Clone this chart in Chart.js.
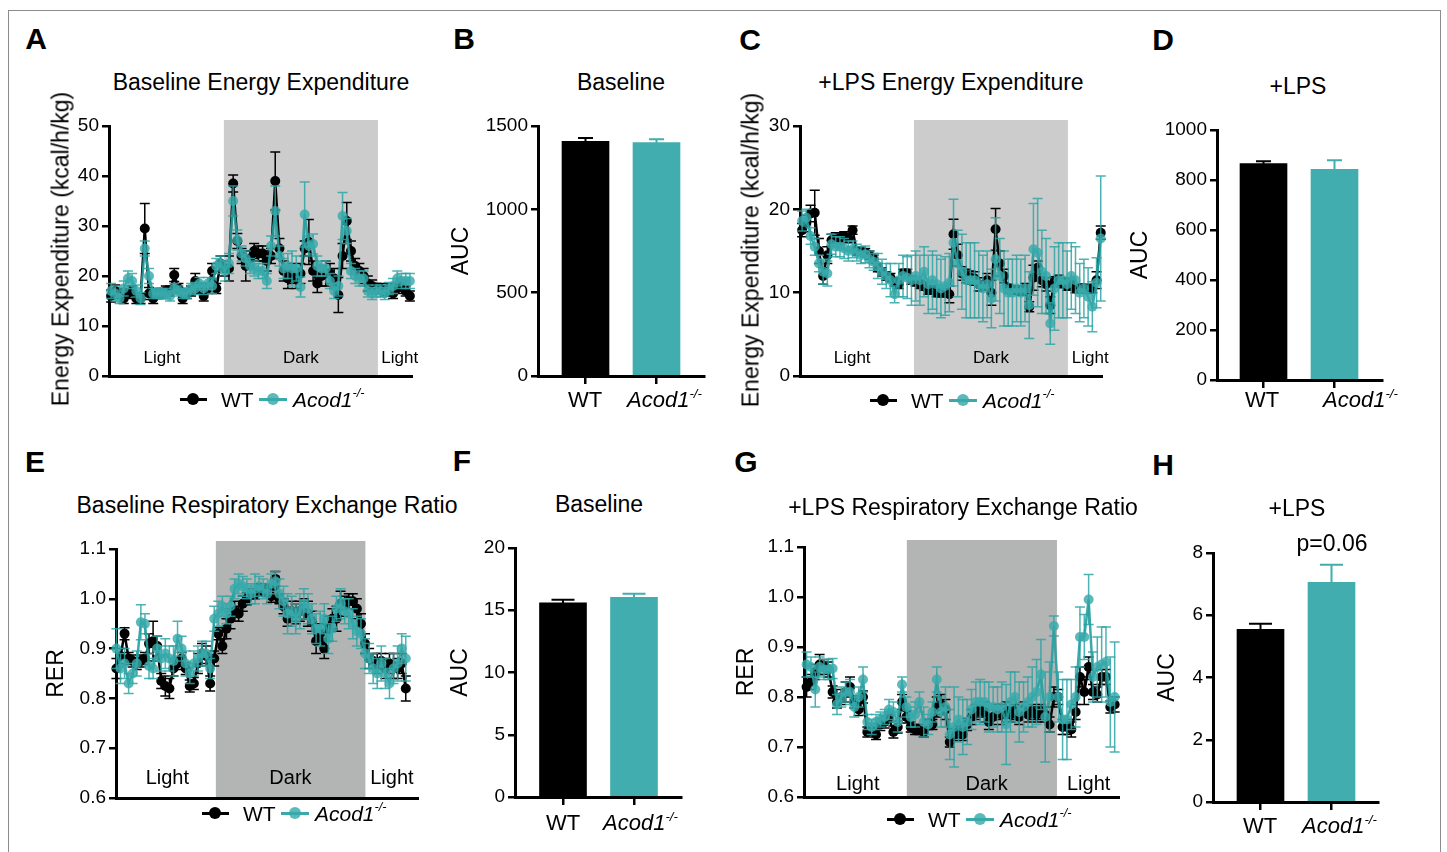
<!DOCTYPE html>
<html>
<head>
<meta charset="utf-8">
<script src="https://cdn.jsdelivr.net/npm/chart.js@4.4.1/dist/chart.umd.min.js"></script>
<style>
  body { margin: 0; width: 1447px; height: 852px; position: relative; background: #fff; overflow: hidden;
         font-family: "Liberation Sans", Arial, sans-serif; color: #000; }
  .frame { position: absolute; left: 8px; top: 10px; width: 1431px; height: 860px; border: 1.5px solid #8c8c8c; }
  canvas { position: absolute; }
  .t { position: absolute; white-space: nowrap; line-height: 1; }
  .letter { font-weight: bold; font-size: 30px; }
  .ttl { font-size: 23px; }
  .lg { font-size: 21px; }
  .tk { font-size: 22px; }
  sup { font-size: 0.6em; position: relative; top: -0.15em; vertical-align: top; }
</style>
</head>
<body>
<div class="frame"></div>
<canvas id="cA" width="380" height="300" style="left:43px;top:96px"></canvas>
<canvas id="cB" width="272" height="300" style="left:444px;top:96px"></canvas>
<canvas id="cC" width="380" height="300" style="left:733px;top:96px"></canvas>
<canvas id="cD" width="272" height="300" style="left:1123px;top:100px"></canvas>
<canvas id="cE" width="390" height="299" style="left:39px;top:519px"></canvas>
<canvas id="cF" width="250" height="299" style="left:443px;top:518px"></canvas>
<canvas id="cG" width="400" height="300" style="left:729px;top:517px"></canvas>
<canvas id="cH" width="240" height="299" style="left:1150px;top:523px"></canvas>
<script>
// ---- time course data (72 bins, 20 min each) ----
// A: baseline energy expenditure (kcal/h/kg)
const eeBaseWT = [
  16, 17, 16.5, 15.5, 16.5, 17, 15.5, 15.5, 29.5, 16.5, 15.5, 16.5,
  16.5, 17, 17, 20.2, 17.5, 15.5, 16.5, 17, 19, 17.5, 16, 17.5,
  21, 17.5, 22.5, 21.5, 21.5, 38.5, 27, 24, 22, 23.5, 25, 24.5,
  24.5, 23, 24, 39, 25.5, 21, 19.5, 20.5, 19.5, 20.5, 25.5, 26.8,
  21, 18.5, 20, 20.5, 20.5, 19.5, 16.2, 24, 31, 25, 22, 21,
  20, 18.5, 18, 17.5, 17.5, 17, 17.5, 16.5, 17.5, 18, 17, 16];
const eeBaseWTErr = [
  1.2, 1.2, 1, 1, 1, 1, 1, 1, 5, 1.2, 1, 1,
  1, 1, 1, 1.3, 1, 1, 1, 1, 1.5, 1, 1, 1,
  1.5, 1, 1.5, 1.5, 2.5, 1.7, 1.5, 1.5, 3, 1.5, 1.5, 1.5,
  1.5, 2, 1.5, 5.8, 2, 2, 2, 2, 2, 2, 1.5, 4.5,
  2, 1.8, 2, 2.5, 2, 2, 3.5, 2.5, 3.7, 2, 1.5, 1.5,
  1.5, 1.5, 1.2, 1, 1, 1, 1, 1, 1, 1, 1, 1];
const eeBaseKO = [
  17, 16.5, 15.5, 17.5, 19.5, 19, 17, 15.5, 25.5, 20, 16.5, 16.5,
  16.5, 16.5, 16, 17.5, 17, 16.5, 16.5, 17.5, 17.5, 18.5, 17.5, 18.5,
  18, 22, 22.5, 21, 22.5, 35, 27.2, 24.5, 23.5, 22, 21.5, 21,
  21, 19, 26, 33, 24, 21.5, 22, 21.5, 21.5, 17.8, 32.3, 26,
  26.4, 22, 21.5, 21.5, 19, 17, 18, 32, 29, 21, 20, 19.5,
  19.5, 17, 16.5, 17, 17, 16.5, 17.5, 18, 19.5, 19, 19, 19];
const eeBaseKOErr = [
  1.5, 1.5, 1, 1.5, 1.5, 1.5, 1.2, 1.2, 1.5, 1.5, 1, 1,
  1, 1, 1, 1, 1, 1, 1, 1, 1.2, 1.2, 1.2, 1.2,
  1.5, 1.5, 1.5, 2, 2, 3, 2, 1.5, 1.5, 1.5, 1.5, 1.5,
  1.5, 1.5, 2, 5, 2, 2, 2.5, 3.5, 2.5, 2, 6.5, 2,
  2, 2, 1.5, 1.5, 1.5, 1.5, 2, 4.7, 2.5, 1.5, 1.5, 1.5,
  1.5, 1.2, 1.2, 1.2, 1.2, 1.2, 1.2, 1.5, 1.5, 1.5, 1.5, 1.5];

// C: +LPS energy expenditure
const eeLpsWT = [
  17.5, 18.3, 19.5, 19.6, 15, 12, 14.5, 16.3, 16.5, 16.5, 16.8, 16.5,
  17.5, 15, 15, 14.8, 14.5, 14, 13, 12.5, 12, 11.8, 11.3, 11,
  12.3, 12.3, 11.5, 11.3, 11, 10.8, 10.3, 10.3, 10, 10, 10, 9.8,
  17, 14.5, 12.3, 12, 11.8, 11.7, 11, 10.8, 11.5, 10, 17.6, 13.5,
  12, 10.5, 10.3, 10.3, 10.2, 10.5, 8.3, 11.8, 13, 11.5, 11, 8.5,
  11.3, 11.5, 11.2, 10.8, 11.2, 10.5, 10.5, 10.5, 10.4, 10.5, 11.5, 17.2];
const eeLpsWTErr = [
  0.8, 1, 1, 2.7, 1.5, 1, 1, 0.7, 0.7, 0.7, 0.5, 0.5,
  0.5, 0.5, 0.5, 0.5, 0.5, 0.5, 0.5, 0.5, 0.5, 0.5, 0.5, 0.5,
  0.5, 0.5, 0.5, 0.5, 0.5, 0.5, 0.5, 0.5, 0.5, 0.5, 0.5, 1,
  1.8, 1.3, 0.8, 0.8, 0.8, 0.8, 0.8, 0.5, 0.8, 1.5, 2.5, 1.5,
  0.8, 0.5, 0.5, 0.5, 0.5, 0.6, 0.6, 1.5, 0.8, 0.8, 0.8, 1,
  0.6, 0.6, 0.6, 0.5, 0.5, 0.5, 0.5, 0.5, 0.5, 0.5, 1, 0.8];
const eeLpsKO = [
  18.6, 19, 16.8, 15.5, 13.5, 12.5, 12.3, 15.8, 15.5, 15.5, 15.3, 15,
  15.2, 14.8, 14.5, 14.6, 14, 13.7, 13.2, 12.5, 12, 11.5, 9.8, 11.5,
  12, 11.8, 11.5, 12, 11.5, 12.5, 11, 11.5, 11, 10.5, 10.8, 11.2,
  16, 13.5, 12.5, 11.5, 11.5, 11.5, 11, 10.5, 11, 9.3, 14, 12,
  10.5, 10, 10, 10.5, 10, 10.5, 8.5, 15.2, 14.8, 12.5, 12, 6.3,
  10.5, 11.5, 11.5, 11, 12, 11.5, 10, 10.5, 9.5, 8.3, 11.2, 16.5];
const eeLpsKOErr = [
  1.2, 1, 1, 1, 1, 1.5, 1.5, 1.2, 1.2, 1.2, 1.2, 1.2,
  1, 1, 1, 1, 1, 1, 1.5, 1.5, 1.5, 2, 1, 2,
  2.5, 2.5, 3, 3, 3, 3, 3.5, 3.5, 3.5, 3.5, 3.5, 3.5,
  5.2, 4, 4.5, 4.5, 4.5, 4.5, 4, 4, 4, 3.5, 5, 4.5,
  4.5, 4, 4, 4, 4, 4, 4, 5.5, 6.5, 5, 4.5, 2.5,
  5, 4.5, 4.5, 4, 4, 4, 3.5, 3.5, 3.5, 3, 3, 7.5];

// E: baseline RER
const rerBaseWT = [
  0.86, 0.885, 0.93, 0.88, 0.875, 0.87, 0.875, 0.88, 0.91, 0.915, 0.905, 0.835,
  0.825, 0.82, 0.86, 0.87, 0.88, 0.86, 0.825, 0.83, 0.87, 0.89, 0.885, 0.83,
  0.88, 0.93, 0.905, 0.94, 0.96, 0.975, 0.97, 0.99, 1.0, 1.01, 1.01, 1.02,
  1.015, 1.02, 1.005, 1.04, 1.0, 0.985, 0.96, 0.975, 0.97, 0.975, 0.98, 0.97,
  0.955, 0.915, 0.93, 0.9, 0.94, 0.96, 0.96, 0.99, 0.985, 0.995, 0.995, 0.98,
  0.95, 0.91, 0.88, 0.875, 0.87, 0.875, 0.86, 0.87, 0.865, 0.86, 0.87, 0.82];
const rerBaseWTErr = [
  0.02, 0.015, 0.012, 0.012, 0.012, 0.012, 0.012, 0.012, 0.02, 0.04, 0.02, 0.015,
  0.02, 0.02, 0.015, 0.012, 0.012, 0.012, 0.012, 0.012, 0.02, 0.02, 0.02, 0.015,
  0.015, 0.012, 0.015, 0.02, 0.02, 0.02, 0.015, 0.015, 0.012, 0.01, 0.01, 0.01,
  0.01, 0.01, 0.012, 0.015, 0.01, 0.015, 0.015, 0.02, 0.02, 0.02, 0.02, 0.025,
  0.02, 0.025, 0.02, 0.02, 0.025, 0.02, 0.025, 0.025, 0.02, 0.015, 0.015, 0.02,
  0.02, 0.02, 0.02, 0.015, 0.02, 0.015, 0.02, 0.02, 0.025, 0.02, 0.02, 0.025];
const rerBaseKO = [
  0.90, 0.86, 0.87, 0.83, 0.85, 0.87, 0.953, 0.95, 0.865, 0.86, 0.90, 0.88,
  0.89, 0.88, 0.875, 0.92, 0.90, 0.87, 0.85, 0.87, 0.88, 0.89, 0.89, 0.86,
  0.96, 0.97, 0.985, 0.97, 0.985, 1.02, 1.03, 1.025, 1.02, 1.01, 1.02, 1.025,
  1.02, 1.01, 1.03, 1.035, 1.01, 0.995, 0.97, 0.975, 0.96, 0.975, 0.99, 0.98,
  0.96, 0.94, 0.94, 0.96, 0.92, 0.94, 0.98, 0.99, 0.975, 0.97, 0.95, 0.935,
  0.93, 0.89, 0.88, 0.86, 0.85, 0.87, 0.85, 0.83, 0.86, 0.87, 0.90, 0.88];
const rerBaseKOErr = [
  0.04, 0.03, 0.03, 0.02, 0.02, 0.025, 0.035, 0.02, 0.025, 0.02, 0.025, 0.025,
  0.03, 0.025, 0.03, 0.035, 0.025, 0.025, 0.02, 0.025, 0.025, 0.025, 0.025, 0.02,
  0.025, 0.025, 0.02, 0.02, 0.02, 0.02, 0.02, 0.02, 0.02, 0.02, 0.03, 0.02,
  0.02, 0.02, 0.02, 0.02, 0.03, 0.03, 0.04, 0.03, 0.03, 0.035, 0.03, 0.03,
  0.03, 0.03, 0.035, 0.03, 0.03, 0.025, 0.025, 0.03, 0.025, 0.03, 0.03, 0.03,
  0.03, 0.03, 0.03, 0.03, 0.03, 0.035, 0.03, 0.03, 0.03, 0.035, 0.03, 0.045];

// G: +LPS RER
const rerLpsWT = [
  0.82, 0.83, 0.85, 0.865, 0.86, 0.855, 0.81, 0.79, 0.80, 0.81, 0.82, 0.79,
  0.775, 0.80, 0.73, 0.735, 0.725, 0.745, 0.75, 0.76, 0.73, 0.74, 0.79, 0.76,
  0.74, 0.735, 0.735, 0.73, 0.745, 0.745, 0.78, 0.785, 0.775, 0.71, 0.725, 0.73,
  0.725, 0.745, 0.76, 0.77, 0.775, 0.77, 0.75, 0.76, 0.77, 0.765, 0.77, 0.765,
  0.77, 0.76, 0.775, 0.765, 0.77, 0.765, 0.77, 0.765, 0.745, 0.80, 0.80, 0.74,
  0.74, 0.735, 0.77, 0.84, 0.81, 0.86, 0.81, 0.805, 0.84, 0.84, 0.78, 0.785];
const rerLpsWTErr = [
  0.02, 0.015, 0.015, 0.02, 0.015, 0.015, 0.012, 0.012, 0.015, 0.02, 0.02, 0.012,
  0.012, 0.012, 0.01, 0.01, 0.01, 0.012, 0.012, 0.01, 0.012, 0.012, 0.015, 0.012,
  0.01, 0.01, 0.01, 0.01, 0.01, 0.01, 0.02, 0.02, 0.02, 0.01, 0.012, 0.012,
  0.012, 0.012, 0.015, 0.015, 0.015, 0.02, 0.015, 0.015, 0.015, 0.02, 0.02, 0.015,
  0.015, 0.015, 0.015, 0.015, 0.015, 0.015, 0.015, 0.015, 0.015, 0.02, 0.015, 0.015,
  0.015, 0.015, 0.015, 0.02, 0.025, 0.02, 0.015, 0.015, 0.015, 0.015, 0.012, 0.015];
const rerLpsKO = [
  0.865, 0.86, 0.815, 0.86, 0.855, 0.855, 0.857, 0.785, 0.80, 0.81, 0.81, 0.78,
  0.80, 0.835, 0.75, 0.74, 0.75, 0.755, 0.76, 0.775, 0.77, 0.75, 0.825, 0.78,
  0.76, 0.765, 0.79, 0.75, 0.745, 0.77, 0.835, 0.77, 0.78, 0.725, 0.74, 0.755,
  0.74, 0.75, 0.775, 0.79, 0.79, 0.79, 0.78, 0.78, 0.775, 0.78, 0.745, 0.79,
  0.80, 0.77, 0.78, 0.79, 0.80, 0.81, 0.845, 0.76, 0.80, 0.942, 0.80, 0.755,
  0.755, 0.785, 0.80, 0.92, 0.92, 0.995, 0.84, 0.86, 0.865, 0.87, 0.79, 0.80];
const rerLpsKOErr = [
  0.025, 0.02, 0.035, 0.02, 0.02, 0.02, 0.02, 0.02, 0.02, 0.02, 0.025, 0.02,
  0.02, 0.025, 0.015, 0.015, 0.015, 0.015, 0.015, 0.02, 0.02, 0.02, 0.015, 0.02,
  0.02, 0.025, 0.02, 0.03, 0.02, 0.02, 0.025, 0.03, 0.04, 0.05, 0.08, 0.045,
  0.055, 0.045, 0.04, 0.04, 0.045, 0.04, 0.05, 0.04, 0.045, 0.05, 0.08, 0.06,
  0.05, 0.06, 0.05, 0.05, 0.06, 0.065, 0.07, 0.09, 0.07, 0.02, 0.05, 0.08,
  0.08, 0.05, 0.06, 0.06, 0.045, 0.05, 0.05, 0.06, 0.075, 0.07, 0.09, 0.11];

// ---- AUC bars ----
const groups = ['WT', 'Acod1'];
const aucEEBase = [1408, 1400],  aucEEBaseErr = [20, 20];
const aucEELps = [866, 843],     aucEELpsErr = [9, 36];
const aucRERBase = [15.6, 16.03], aucRERBaseErr = [0.25, 0.3];
const aucRERLps = [5.55, 7.06],  aucRERLpsErr = [0.18, 0.56];

// tick labels
const eeBaseTicks = [0, 10, 20, 30, 40, 50];
const eeLpsTicks = [0, 10, 20, 30];
const rerTicks = [0.6, 0.7, 0.8, 0.9, 1.0, 1.1];
const aucEEBaseTicks = [0, 500, 1000, 1500];
const aucEELpsTicks = [0, 200, 400, 600, 800, 1000];
const aucRERBaseTicks = [0, 5, 10, 15, 20];
const aucRERLpsTicks = [0, 2, 4, 6, 8];
const periods = ['Light', 'Dark', 'Light'];

const TEAL = '#42adae';
const TEAL_PT = 'rgba(56,170,171,0.82)';
const TEAL_LN = 'rgba(38,158,160,0.9)';

Chart.defaults.font.family = '"Liberation Sans", Arial, sans-serif';
Chart.defaults.color = '#000';
Chart.defaults.animation = false;
Chart.defaults.events = [];
Chart.defaults.plugins.legend.display = false;
Chart.defaults.plugins.tooltip.enabled = false;

// light/dark shading + labels
const shadePlugin = {
  id: 'shade',
  beforeDraw(chart, args, o) {
    if (o.from === undefined) return;
    const {ctx, chartArea: a} = chart;
    const x = chart.scales.x;
    const x0 = x.getPixelForValue(o.from), x1 = x.getPixelForValue(o.to);
    ctx.save();
    ctx.fillStyle = o.color;
    ctx.fillRect(x0, a.top - o.over, x1 - x0, a.bottom - a.top + o.over);
    ctx.fillStyle = '#000';
    ctx.font = o.size + 'px "Liberation Sans", Arial';
    ctx.textAlign = 'center';
    ctx.textBaseline = 'middle';
    periods.forEach((t, i) => ctx.fillText(t, x.getPixelForValue(o.at[i]), a.bottom - o.off));
    ctx.restore();
  }
};

// SEM whiskers, drawn under each dataset
const errPlugin = {
  id: 'errbars',
  beforeDatasetDraw(chart, args) {
    const ds = chart.data.datasets[args.index];
    if (!ds.err) return;
    const {ctx} = chart;
    const y = chart.scales.y;
    ctx.save();
    ctx.lineWidth = ds.errWidth || 1.5;
    args.meta.data.forEach((el, i) => {
      const v = ds.data[i].y;
      const e = ds.err[i];
      const yt = y.getPixelForValue(v + e), yb = y.getPixelForValue(v - e);
      const c = ds.capW / 2;
      ctx.strokeStyle = Array.isArray(ds.errColor) ? ds.errColor[i] : ds.errColor;
      ctx.beginPath();
      ctx.moveTo(el.x, yt); ctx.lineTo(el.x, yb);
      ctx.moveTo(el.x - c, yt); ctx.lineTo(el.x + c, yt);
      ctx.moveTo(el.x - c, yb); ctx.lineTo(el.x + c, yb);
      ctx.stroke();
    });
    ctx.restore();
  }
};
Chart.register(shadePlugin, errPlugin);

const pts = arr => arr.map((y, i) => ({x: i, y}));

function yAxis(ticks, min, max, title, width, fmt) {
  return {
    min, max,
    afterBuildTicks: s => { s.ticks = ticks.map(v => ({value: v})); },
    ticks: {color: '#000', font: {size: 19}, padding: 3, callback: v => fmt ? fmt(v) : v},
    grid: {display: true, drawOnChartArea: false, drawTicks: true, tickLength: 7, color: '#000', lineWidth: 2.5},
    border: {display: true, color: '#000', width: 3},
    title: {display: !!title, text: title || '', color: '#000', font: {size: 23}, padding: {top: 4, bottom: 0}},
    afterFit: s => { s.width = width; }
  };
}

function timeChart(id, cfg) {
  new Chart(document.getElementById(id), {
    type: 'line',
    data: {
      datasets: [
        {data: pts(cfg.wt), err: cfg.wtErr, errColor: '#000', capW: 10, order: 2,
         borderColor: '#000', backgroundColor: '#000', pointBackgroundColor: '#000',
         borderWidth: 2.5, pointRadius: 5, pointBorderWidth: 0, tension: 0, clip: false},
        {data: pts(cfg.ko), err: cfg.koErr, errColor: 'rgba(46,165,166,0.85)', capW: 10, order: 1,
         borderColor: TEAL_LN, backgroundColor: TEAL_PT, pointBackgroundColor: TEAL_PT,
         borderWidth: 2.5, pointRadius: 5, pointBorderWidth: 0, tension: 0, clip: false}
      ]
    },
    options: {
      responsive: false,
      layout: {padding: {left: 0, top: 30, right: cfg.padR, bottom: 0}},
      plugins: {shade: cfg.shade},
      scales: {
        x: {type: 'linear', min: cfg.xMin, max: cfg.xMax, ticks: {display: false},
            grid: {display: false}, border: {display: true, color: '#000', width: 3},
            afterFit: s => { s.height = 20; }},
        y: yAxis(cfg.ticks, cfg.yMin, cfg.yMax, cfg.title, cfg.yW, cfg.fmt)
      }
    }
  });
}

function aucChart(id, cfg) {
  new Chart(document.getElementById(id), {
    type: 'bar',
    data: {
      datasets: [{
        data: cfg.vals.map((v, i) => ({x: i + 1, y: v})),
        backgroundColor: ['#000', TEAL], borderWidth: 0, barThickness: 47,
        err: cfg.err, errColor: ['#000', TEAL], capW: cfg.capW, errWidth: 2
      }]
    },
    options: {
      responsive: false,
      layout: {padding: {left: 0, top: 30, right: cfg.padR, bottom: 0}},
      scales: {
        x: {type: 'linear', min: cfg.xMin, max: cfg.xMax, offset: false,
            afterBuildTicks: s => { s.ticks = groups.map((g, i) => ({value: i + 1})); },
            ticks: {callback: () => ''},
            grid: {display: true, drawOnChartArea: false, drawTicks: true, tickLength: 8, color: '#000', lineWidth: 2.5, offset: false},
            border: {display: true, color: '#000', width: 3},
            afterFit: s => { s.height = 20; }},
        y: yAxis(cfg.ticks, cfg.ticks[0], cfg.ticks[cfg.ticks.length - 1], 'AUC', cfg.yW)
      }
    }
  });
}

const one = v => v.toFixed(1);

// long y titles for the energy panels are placed as rotated page text (see below)
timeChart('cA', {wt: eeBaseWT, wtErr: eeBaseWTErr, ko: eeBaseKO, koErr: eeBaseKOErr,
  xMin: -0.5, xMax: 71.5, yMin: 0, yMax: 50, ticks: eeBaseTicks, yW: 66, padR: 11,
  shade: {from: 26.8, to: 63.4, color: '#cbcccb', over: 6, size: 17, off: 18, at: [12.1, 45.1, 68.6]}});
timeChart('cC', {wt: eeLpsWT, wtErr: eeLpsWTErr, ko: eeLpsKO, koErr: eeLpsKOErr,
  xMin: -0.5, xMax: 71.3, yMin: 0, yMax: 30, ticks: eeLpsTicks, yW: 67, padR: 11,
  shade: {from: 26.6, to: 63.2, color: '#cbcccb', over: 6, size: 17, off: 18, at: [11.9, 44.9, 68.5]}});
timeChart('cE', {wt: rerBaseWT, wtErr: rerBaseWTErr, ko: rerBaseKO, koErr: rerBaseKOErr,
  xMin: -0.1, xMax: 74, yMin: 0.6, yMax: 1.1, ticks: rerTicks, yW: 77, padR: 11, fmt: one,
  title: 'RER',
  shade: {from: 24.4, to: 61.1, color: '#b3b4b4', over: 8, size: 20, off: 20, at: [12.5, 42.7, 67.6]}});
timeChart('cG', {wt: rerLpsWT, wtErr: rerLpsWTErr, ko: rerLpsKO, koErr: rerLpsKOErr,
  xMin: -0.6, xMax: 72, yMin: 0.6, yMax: 1.1, ticks: rerTicks, yW: 75, padR: 10, fmt: one,
  title: 'RER',
  shade: {from: 23.1, to: 57.7, color: '#b3b4b4', over: 7, size: 20, off: 13, at: [11.8, 41.5, 65]}});

aucChart('cB', {vals: aucEEBase, err: aucEEBaseErr, ticks: aucEEBaseTicks, capW: 15, yW: 94, padR: 12, xMin: 0.331, xMax: 2.669});
aucChart('cD', {vals: aucEELps, err: aucEELpsErr, ticks: aucEELpsTicks, capW: 15, yW: 94, padR: 13, xMin: 0.345, xMax: 2.669});
aucChart('cF', {vals: aucRERBase, err: aucRERBaseErr, ticks: aucRERBaseTicks, capW: 23, yW: 72, padR: 12, xMin: 0.324, xMax: 2.662});
aucChart('cH', {vals: aucRERLps, err: aucRERLpsErr, ticks: aucRERLpsTicks, capW: 23, yW: 63, padR: 12, xMin: 0.331, xMax: 2.655});

// ---- text overlays ----
function put(html, x, y, cls, center, rot) {
  const d = document.createElement('div');
  d.className = 't ' + cls;
  d.innerHTML = html;
  d.style.left = x + 'px';
  d.style.top = y + 'px';
  d.style.transform = (center ? 'translate(-50%,-50%)' : 'translate(0,-50%)') + (rot ? ' rotate(-90deg)' : '');
  document.body.appendChild(d);
}
const KO_HTML = '<i>Acod1<sup>-/-</sup></i>';

[['A', 36, 39], ['B', 464, 39], ['C', 750, 40], ['D', 1163, 40],
 ['E', 35, 462], ['F', 462, 461], ['G', 746, 462], ['H', 1163, 465]]
  .forEach(([l, x, y]) => put(l, x, y, 'letter', true));

[['Baseline Energy Expenditure', 261, 82], ['Baseline', 621, 82],
 ['+LPS Energy Expenditure', 951, 82], ['+LPS', 1298, 86],
 ['Baseline Respiratory Exchange Ratio', 267, 505], ['Baseline', 599, 504],
 ['+LPS Respiratory Exchange Ratio', 963, 507], ['+LPS', 1297, 508]]
  .forEach(([t, x, y]) => put(t, x, y, 'ttl', true));

put('Energy Expenditure (kcal/h/kg)', 61, 249, 'ttl', true, true);
put('Energy Expenditure (kcal/h/kg)', 751, 250, 'ttl', true, true);

put('p=0.06', 1332, 543, 'ttl', true);

// bar axis category labels
[[585, 627, 400], [1262, 1323, 400], [563, 603, 823], [1260, 1302, 826]].forEach(([wx, kx, y]) => {
  put(groups[0], wx, y, 'tk', true);
  put(KO_HTML, kx, y, 'tk', false);
});

// legends for the time courses
function seg(x, y, w, color) {
  const d = document.createElement('div');
  d.style.cssText = `position:absolute;left:${x}px;top:${y - 1.5}px;width:${w}px;height:3px;background:${color}`;
  document.body.appendChild(d);
}
function dot(x, y, color) {
  const d = document.createElement('div');
  d.style.cssText = `position:absolute;left:${x - 6}px;top:${y - 6}px;width:12px;height:12px;border-radius:50%;background:${color}`;
  document.body.appendChild(d);
}
function legend(x0, y) {
  seg(x0, y, 27, '#000'); dot(x0 + 13, y, '#000');
  put('WT', x0 + 41, y, 'lg', false);
  seg(x0 + 79, y, 28, TEAL_LN); dot(x0 + 93, y, TEAL_PT);
  put(KO_HTML, x0 + 113, y, 'lg', false);
}
legend(180, 399);
legend(870, 400);
legend(202, 813);
legend(887, 819);
</script>
</body>
</html>
